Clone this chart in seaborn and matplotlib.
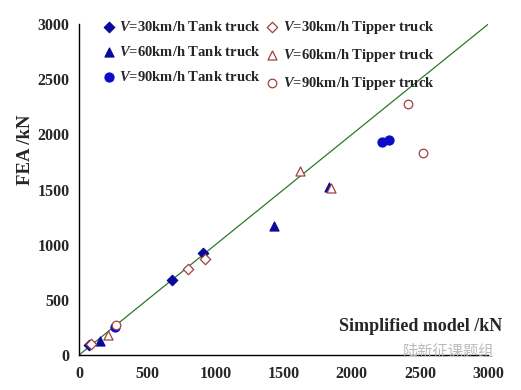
import matplotlib
matplotlib.use('Agg')
import matplotlib.pyplot as plt
import seaborn as sns

# simplified model (x) vs FEA (y), kN
tank30_x = [70, 680, 905]
tank30_y = [90, 675, 925]
tipper30_x = [85, 800, 925]
tipper30_y = [100, 775, 870]
tank60_x = [150, 1430, 1830]
tank60_y = [130, 1170, 1520]
tipper60_x = [210, 1620, 1850]
tipper60_y = [180, 1670, 1510]
tank90_x = [260, 2220, 2270]
tank90_y = [250, 1935, 1945]
tipper90_x = [270, 2410, 2520]
tipper90_y = [275, 2280, 1830]

ref_line = [0, 3000]
ticks = [0, 500, 1000, 1500, 2000, 2500, 3000]

sns.set_style('white')
plt.rcParams['font.family'] = ['Liberation Serif', 'DejaVu Serif']
plt.rcParams['mathtext.fontset'] = 'custom'
plt.rcParams['mathtext.it'] = 'Liberation Serif:italic:bold'
plt.rcParams['mathtext.rm'] = 'Liberation Serif:bold'

fig = plt.figure(figsize=(5.21, 3.9), dpi=100)
ax = fig.add_axes([0.152, 0.09, 0.785, 0.848])

tank_c = '#0a0a9a'
tip_c = '#a04040'

sns.lineplot(x=ref_line, y=ref_line, ax=ax, color='#2a7a2a', linewidth=0.9)

# column-major order so the legend reads tank | tipper per row
series = [
    (tank30_x, tank30_y, 'D', tank_c, tank_c, 28, r'$V$=30km/h Tank truck'),
    (tank60_x, tank60_y, '^', tank_c, tank_c, 42, r'$V$=60km/h Tank truck'),
    (tank90_x, tank90_y, 'o', '#0c0cc8', '#0c0cc8', 42, r'$V$=90km/h Tank truck'),
    (tipper30_x, tipper30_y, 'D', 'white', tip_c, 28, r'$V$=30km/h Tipper truck'),
    (tipper60_x, tipper60_y, '^', 'white', tip_c, 42, r'$V$=60km/h Tipper truck'),
    (tipper90_x, tipper90_y, 'o', 'white', tip_c, 38, r'$V$=90km/h Tipper truck'),
]
for xs, ys, m, fc, ec, s, lab in series:
    sns.scatterplot(x=xs, y=ys, ax=ax, marker=m, s=s, color=fc,
                    edgecolor=ec, linewidth=0.9, label=lab, zorder=3)

ax.set_xlim(0, 3000)
ax.set_ylim(0, 3000)
ax.set_xticks(ticks)
ax.set_yticks(ticks)
for sp in ['top', 'right']:
    ax.spines[sp].set_visible(False)
for sp in ['left', 'bottom']:
    ax.spines[sp].set_color('black')
    ax.spines[sp].set_linewidth(1.0)
ax.tick_params(axis='x', direction='in', length=5, width=1, pad=8, labelsize=11.5)
ax.tick_params(axis='y', direction='out', length=4, width=1, pad=3, labelsize=11.5)
for lbl in ax.get_xticklabels() + ax.get_yticklabels():
    lbl.set_fontweight('bold')

ax.set_ylabel('FEA /kN', fontsize=13.5, fontweight='bold')
ax.yaxis.set_label_coords(-0.11, 0.62)
ax.text(1.035, 0.085, 'Simplified model /kN', transform=ax.transAxes,
        ha='right', va='center', fontsize=13, fontweight='bold')

leg = ax.legend(loc='upper left', ncol=2, frameon=False, fontsize=10.5,
                bbox_to_anchor=(0.02, 1.055), handletextpad=0.1,
                columnspacing=0.15, labelspacing=0.74, handlelength=1.2)
for t in leg.get_texts():
    t.set_fontweight('bold')

fig.text(0.86, 0.1, '陆新征课题组', fontsize=11, color='#b4b4b4', alpha=0.9,
         ha='center', va='center', family=['Noto Sans CJK SC', 'DejaVu Sans'])

fig.savefig('out.png', dpi=100)
